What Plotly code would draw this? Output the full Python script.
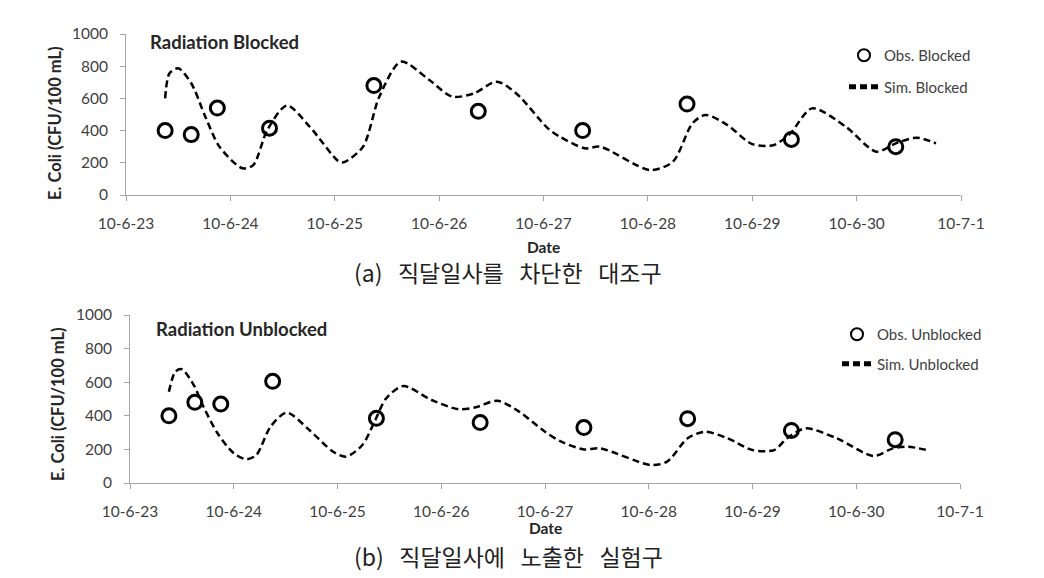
import plotly.graph_objects as go

# ---------------- data ----------------
obs_blocked_t = ["2010-06-23 09:00", "2010-06-23 15:00", "2010-06-23 21:00", "2010-06-24 09:00",
                 "2010-06-25 09:00", "2010-06-26 09:00", "2010-06-27 09:00", "2010-06-28 09:00",
                 "2010-06-29 09:00", "2010-06-30 09:00"]
obs_blocked_v = [400, 375, 540, 415, 680, 520, 400, 565, 345, 300]

sim_blocked_t = ["2010-06-23 09:00", "2010-06-23 10:00", "2010-06-23 12:00", "2010-06-23 15:00",
                 "2010-06-23 18:15", "2010-06-23 21:30", "2010-06-24 02:45", "2010-06-24 05:15",
                 "2010-06-24 08:30", "2010-06-24 13:00", "2010-06-24 18:15", "2010-06-25 00:45",
                 "2010-06-25 02:00", "2010-06-25 06:30", "2010-06-25 10:15", "2010-06-25 15:15",
                 "2010-06-25 21:45", "2010-06-26 03:00", "2010-06-26 08:00", "2010-06-26 13:15",
                 "2010-06-26 17:45", "2010-06-27 01:00", "2010-06-27 03:45", "2010-06-27 09:30",
                 "2010-06-27 13:00", "2010-06-28 00:30", "2010-06-28 05:45", "2010-06-28 10:15",
                 "2010-06-28 13:15", "2010-06-28 18:15", "2010-06-29 00:00", "2010-06-29 05:00",
                 "2010-06-29 08:45", "2010-06-29 13:45", "2010-06-29 21:30", "2010-06-30 04:30",
                 "2010-06-30 09:00", "2010-06-30 13:45", "2010-06-30 18:15"]
sim_blocked_v = [600, 756, 787, 694, 486, 300, 166, 186, 404, 556, 424, 212, 203, 300, 611, 828,
                 714, 611, 631, 704, 631, 414, 362, 290, 300, 155, 207, 445, 497, 435, 316, 311,
                 383, 538, 424, 269, 321, 356, 321]

obs_unblocked_t = ["2010-06-23 09:00", "2010-06-23 15:00", "2010-06-23 21:00", "2010-06-24 09:00",
                   "2010-06-25 09:00", "2010-06-26 09:00", "2010-06-27 09:00", "2010-06-28 09:00",
                   "2010-06-29 09:00", "2010-06-30 09:00"]
obs_unblocked_v = [400, 480, 470, 605, 385, 360, 330, 383, 313, 258]

sim_unblocked_t = ["2010-06-23 09:00", "2010-06-23 10:30", "2010-06-23 12:00", "2010-06-23 14:45",
                   "2010-06-23 17:00", "2010-06-23 20:15", "2010-06-24 00:00", "2010-06-24 03:00",
                   "2010-06-24 05:15", "2010-06-24 08:30", "2010-06-24 12:15", "2010-06-24 17:30",
                   "2010-06-24 23:00", "2010-06-25 02:00", "2010-06-25 05:45", "2010-06-25 08:45",
                   "2010-06-25 11:15", "2010-06-25 15:15", "2010-06-25 21:45", "2010-06-26 04:00",
                   "2010-06-26 08:00", "2010-06-26 13:00", "2010-06-26 18:00", "2010-06-27 00:00",
                   "2010-06-27 03:45", "2010-06-27 09:00", "2010-06-27 12:45", "2010-06-28 00:30",
                   "2010-06-28 04:15", "2010-06-28 09:00", "2010-06-28 13:00", "2010-06-28 18:15",
                   "2010-06-29 00:00", "2010-06-29 05:00", "2010-06-29 08:00", "2010-06-29 12:15",
                   "2010-06-29 19:30", "2010-06-30 04:00", "2010-06-30 08:30", "2010-06-30 12:00",
                   "2010-06-30 17:00"]
sim_unblocked_v = [543, 663, 677, 583, 454, 296, 177, 141, 167, 335, 419, 315, 186, 157, 226, 375,
                   504, 577, 494, 439, 451, 490, 425, 305, 246, 200, 206, 107, 127, 266, 305, 266,
                   196, 196, 266, 325, 266, 161, 206, 216, 192]

y_ticks = [0, 200, 400, 600, 800, 1000]
x_range = ["2010-06-23", "2010-07-01"]
panel_titles = ["Radiation Blocked", "Radiation Unblocked"]
captions = ["(a)\u00a0\u00a0 직달일사를\u00a0\u00a0 차단한\u00a0\u00a0 대조구",
            "(b)\u00a0\u00a0 직달일사에\u00a0\u00a0 노출한\u00a0\u00a0 실험구"]
y_title = "E. Coli (CFU/100 mL)"
x_title = "Date"

# ---------------- styling ----------------
W, H = 1044, 578
FONT = "Lato"
TXT = "#404040"
AX = "#a6a6a6"


def px(x):
    return x / W


def py(y):
    return 1 - y / H


fig = go.Figure()

dash = "7px,4px"
fig.add_trace(go.Scatter(x=obs_blocked_t, y=obs_blocked_v, mode="markers", name="Obs. Blocked",
                         marker=dict(symbol="circle-open", size=14, color="black", line=dict(width=3)),
                         xaxis="x", yaxis="y", legend="legend", legendgroup="a"))
fig.add_trace(go.Scatter(x=sim_blocked_t, y=sim_blocked_v, mode="lines", name="Sim. Blocked",
                         line=dict(color="black", width=2.5, dash=dash, shape="spline", smoothing=0.8),
                         xaxis="x", yaxis="y", legend="legend", legendgroup="b"))
fig.add_trace(go.Scatter(x=obs_unblocked_t, y=obs_unblocked_v, mode="markers", name="Obs. Unblocked",
                         marker=dict(symbol="circle-open", size=14, color="black", line=dict(width=3)),
                         xaxis="x2", yaxis="y2", legend="legend2", legendgroup="c"))
fig.add_trace(go.Scatter(x=sim_unblocked_t, y=sim_unblocked_v, mode="lines", name="Sim. Unblocked",
                         line=dict(color="black", width=2.5, dash=dash, shape="spline", smoothing=0.8),
                         xaxis="x2", yaxis="y2", legend="legend2", legendgroup="d"))

xcommon = dict(type="date", range=x_range, tick0="2010-06-23", dtick=86400000, tickformat="%y-%-m-%-d",
               showline=True, linecolor=AX, linewidth=1, ticks="outside", ticklen=5, tickcolor=AX,
               showgrid=False, zeroline=False, tickfont=dict(family=FONT, size=15.5, color=TXT),
               ticklabelstandoff=9, automargin=False)
ycommon = dict(range=[0, 1000], tickvals=y_ticks, showline=True, linecolor=AX, linewidth=1,
               ticks="outside", ticklen=5, tickcolor=AX, showgrid=False, zeroline=False,
               tickfont=dict(family=FONT, size=15.5, color=TXT), ticklabelstandoff=9, automargin=False)

legcommon = dict(font=dict(family=FONT, size=15, color=TXT), bgcolor="rgba(0,0,0,0)",
                 xanchor="left", yanchor="top", itemsizing="constant")

annotations = []
# panel titles
annotations.append(dict(x=px(148), y=py(42), xref="paper", yref="paper", text="<b>%s</b>" % panel_titles[0],
                        showarrow=False, xanchor="left", yanchor="middle",
                        font=dict(family=FONT, size=18.5, color="#262626")))
annotations.append(dict(x=px(154), y=py(329), xref="paper", yref="paper", text="<b>%s</b>" % panel_titles[1],
                        showarrow=False, xanchor="left", yanchor="middle",
                        font=dict(family=FONT, size=18.5, color="#262626")))
# y titles
for cx, cy in [(55, 123), (58, 404)]:
    annotations.append(dict(x=px(cx), y=py(cy), xref="paper", yref="paper", text="<b>%s</b>" % y_title,
                            showarrow=False, textangle=-90, xanchor="center", yanchor="middle",
                            font=dict(family=FONT, size=16.5, color="#262626")))
# x titles
for cx, cy in [(543, 247), (545, 528)]:
    annotations.append(dict(x=px(cx), y=py(cy), xref="paper", yref="paper", text="<b>%s</b>" % x_title,
                            showarrow=False, xanchor="center", yanchor="middle",
                            font=dict(family=FONT, size=15.5, color="#262626")))
# captions
for (cx, cy), cap in zip([(508, 272), (508, 556)], captions):
    annotations.append(dict(x=px(cx), y=py(cy), xref="paper", yref="paper", text=cap,
                            showarrow=False, xanchor="center", yanchor="middle",
                            font=dict(family="Noto Sans CJK KR", size=23, color="#222222")))

fig.update_layout(
    width=W, height=H, margin=dict(l=0, r=0, t=0, b=0, autoexpand=False),
    paper_bgcolor="white", plot_bgcolor="white",
    xaxis=dict(domain=[px(126), px(961)], anchor="y", **xcommon),
    yaxis=dict(domain=[py(195), py(34)], anchor="x", **ycommon),
    xaxis2=dict(domain=[px(130), px(960)], anchor="y2", **xcommon),
    yaxis2=dict(domain=[py(483), py(315)], anchor="x2", **ycommon),
    legend=dict(x=px(844), y=py(39), tracegroupgap=9, **legcommon),
    legend2=dict(x=px(837), y=py(318), tracegroupgap=7, **legcommon),
    annotations=annotations,
    showlegend=True,
)

fig.write_html("out.html")
